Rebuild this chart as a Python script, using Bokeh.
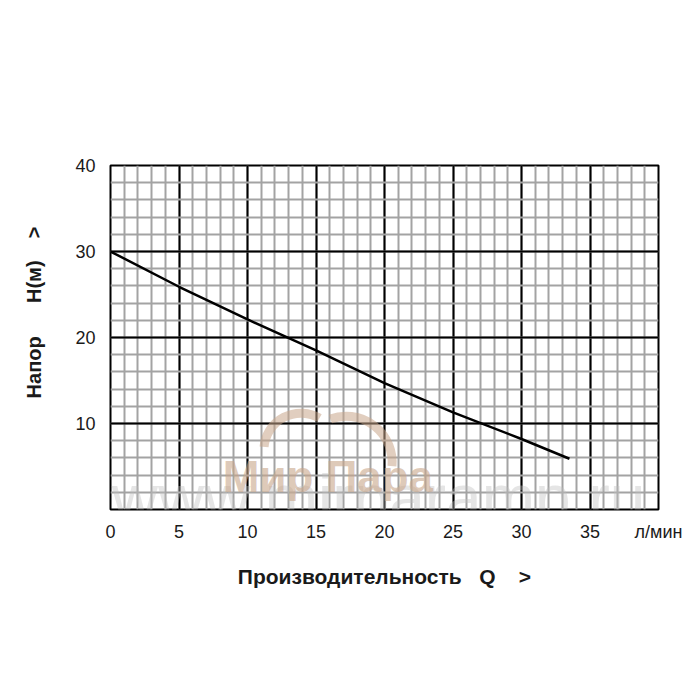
import math
from bokeh.plotting import figure
from bokeh.models import Range1d, SingleIntervalTicker, FixedTicker, Label
from bokeh.embed import file_html
from bokeh.resources import INLINE

# ---- data ----
flow = [0, 5, 10, 15, 20, 25, 30, 33.5]          # Q, л/мин
head = [30, 25.9, 22.1, 18.5, 14.7, 11.3, 8.2, 5.9]  # H, м

x_ticks = [0, 5, 10, 15, 20, 25, 30, 35, 40]
x_tick_labels = {40: "л/мин"}
y_ticks = [10, 20, 30, 40]

NB = "\u00a0"
x_title = "Производительность" + NB * 3 + "Q" + NB * 4 + ">"
y_title = NB * 9 + "Напор" + NB * 6 + "H(м)" + NB * 4 + ">"

FONT = "Liberation Sans"

p = figure(width=692, height=692, output_backend="svg", toolbar_location=None,
           x_range=Range1d(0, 40), y_range=Range1d(0, 40),
           min_border_left=110, min_border_right=34, min_border_top=165,
           min_border_bottom=183)
p.background_fill_color = "white"
p.border_fill_color = "white"
p.outline_line_color = "black"
p.outline_line_width = 2

# grids
p.xgrid.ticker = SingleIntervalTicker(interval=5, num_minor_ticks=5)
p.ygrid.ticker = SingleIntervalTicker(interval=10, num_minor_ticks=5)
for g in (p.xgrid, p.ygrid):
    g.grid_line_color = "black"
    g.grid_line_width = 2
    g.grid_line_alpha = 1
    g.minor_grid_line_color = "#a3a3a3"
    g.minor_grid_line_width = 2
    g.level = "underlay"

# axes
p.xaxis.ticker = FixedTicker(ticks=x_ticks)
p.xaxis.major_label_overrides = x_tick_labels
p.yaxis.ticker = FixedTicker(ticks=y_ticks)
for ax in (p.xaxis, p.yaxis):
    ax.axis_line_color = None
    ax.major_tick_line_color = None
    ax.minor_tick_line_color = None
    ax.major_tick_out = 0
    ax.major_tick_in = 0
    ax.major_label_text_font = FONT
    ax.major_label_text_font_size = "18px"
    ax.major_label_text_color = "#1a1a1a"
    ax.axis_label_text_font = FONT
    ax.axis_label_text_font_style = "bold"
    ax.axis_label_text_font_size = "20px"
    ax.axis_label_text_color = "#1a1a1a"
p.xaxis.major_label_standoff = 12
p.yaxis.major_label_standoff = 15

p.xaxis.axis_label = x_title
p.xaxis.axis_label_text_font_size = "21px"
p.xaxis.axis_label_standoff = 20
p.yaxis.axis_label = y_title
p.yaxis.axis_label_standoff = 27

# watermark
wm_color = "#c9a68a"
p.add_layout(Label(x=0.1, y=1.3, text="www.mirparamp.ru", text_font=FONT,
                   text_font_size="64px", text_color="#bdbdbd", text_alpha=0.4,
                   text_baseline="alphabetic", level="underlay"))
p.arc(x=[13.9, 17.2], y=[6.9, 5.5], radius=[37, 46], radius_units="screen",
      start_angle=[math.radians(60), math.radians(-5)],
      end_angle=[math.radians(175), math.radians(110)],
      line_color=wm_color, line_width=9, line_alpha=0.55)
p.add_layout(Label(x=8.2, y=3.8, text="Мир Пара", text_font=FONT,
                   text_font_style="bold", text_font_size="44px",
                   text_color=wm_color, text_alpha=0.6, text_baseline="alphabetic"))

# curve
p.line(flow, head, line_color="black", line_width=2.5)

open("out.html", "w").write(file_html(p, INLINE))
